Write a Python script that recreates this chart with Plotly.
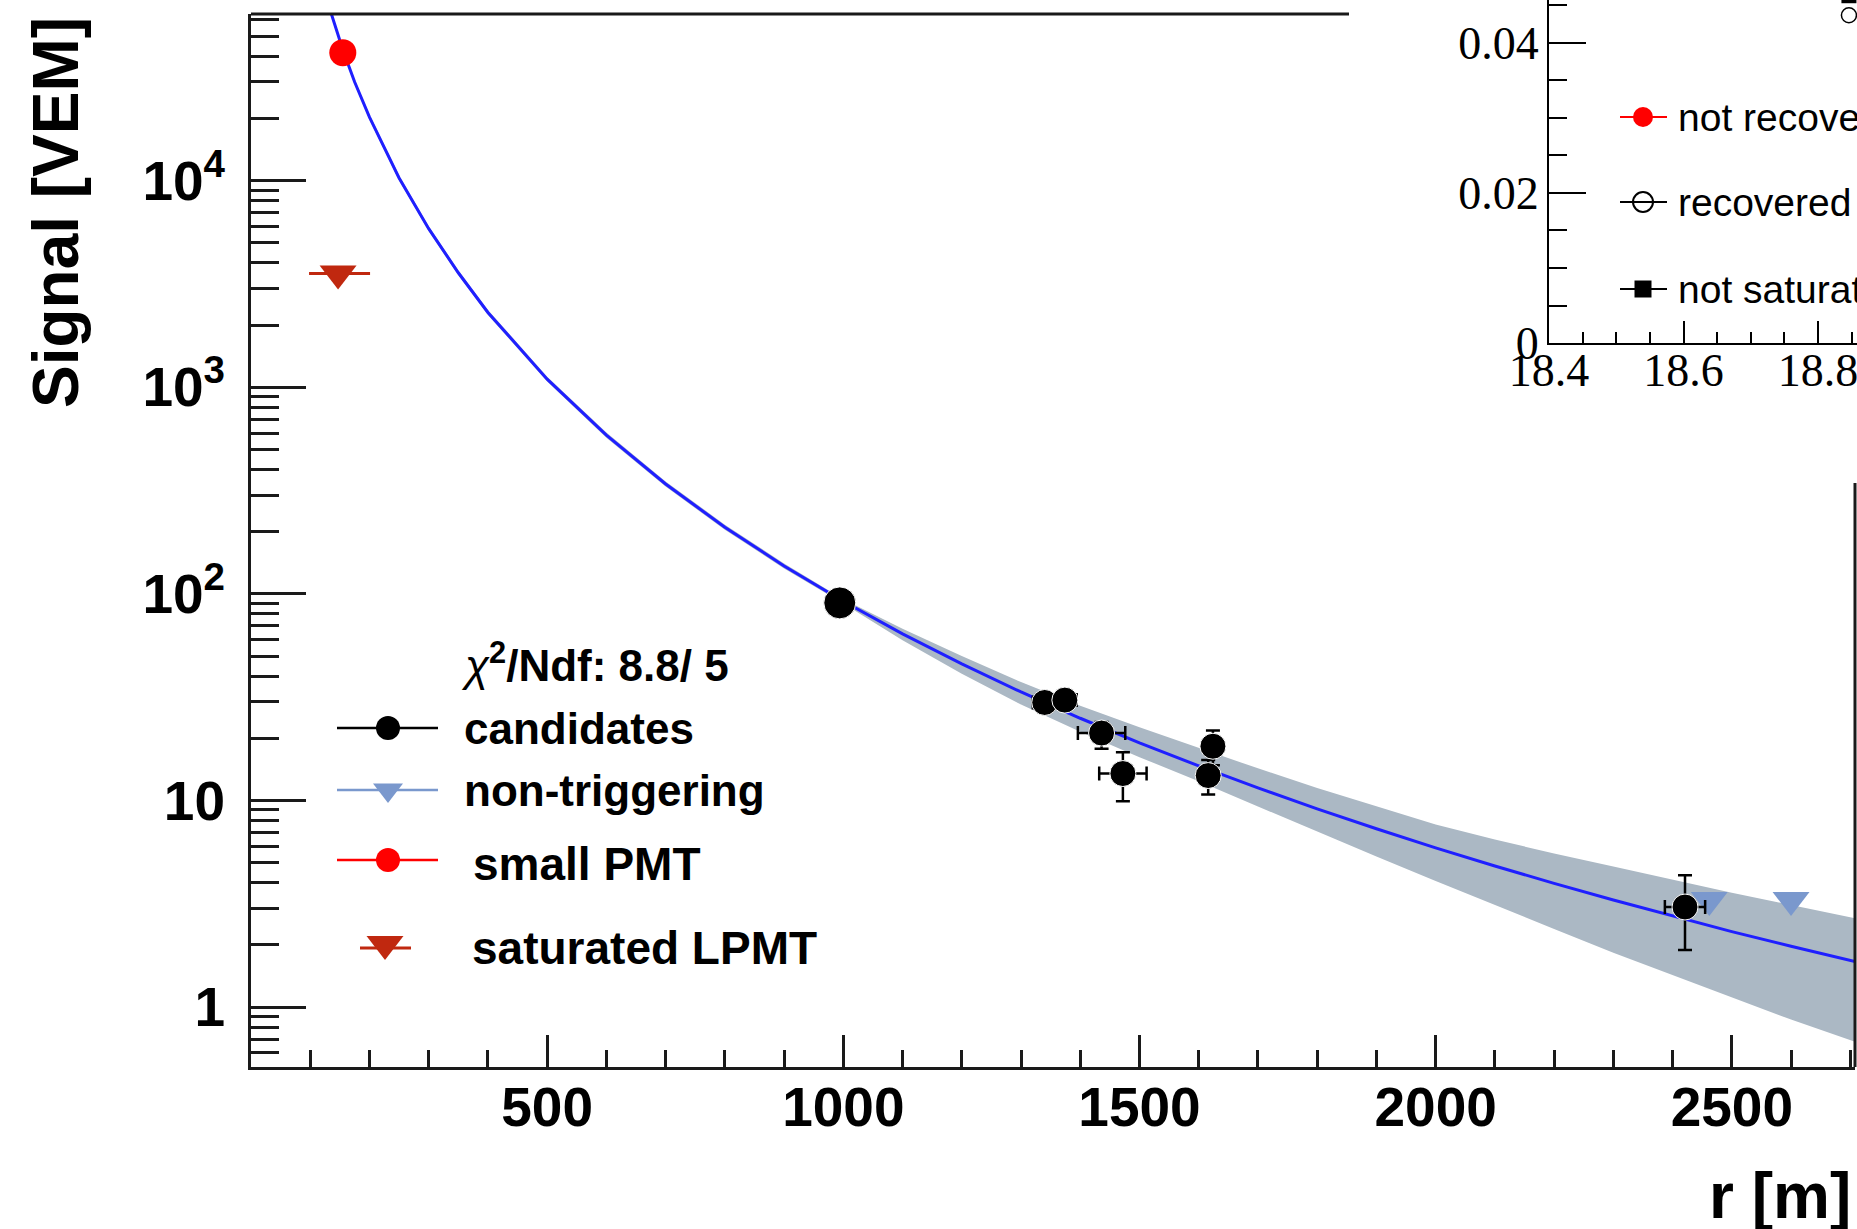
import math
import plotly.graph_objects as go

# ---------------- data ----------------
# fit curve (LDF) sampled along r [m] -> signal [VEM]
r_fit = [130, 140, 155, 175, 200, 250, 300, 350, 400, 500, 600, 700, 800, 900, 1000,
         1100, 1200, 1300, 1400, 1500, 1600, 1700, 1800, 1900, 2000, 2100, 2200, 2300,
         2400, 2500, 2600, 2708]
s_fit = [72000, 58000, 43000, 30000, 20300, 10300, 5850, 3580, 2300, 1094, 586, 340, 210,
         136.5, 92, 64.0, 45.8, 33.5, 25.0, 19.0, 14.7, 11.5, 9.1, 7.30, 5.9, 4.82, 3.97,
         3.30, 2.76, 2.32, 1.97, 1.66]
s_band_hi = [74000, 59600, 44200, 30800, 20900, 10600, 6010, 3680, 2365, 1125, 603, 350,
             216, 140.3, 94.1, 67.8, 50.0, 37.4, 28.7, 22.6, 17.9, 14.3, 11.5, 9.34, 7.65,
             6.47, 5.54, 4.79, 4.14, 3.58, 3.12, 2.69]
s_band_lo = [70000, 56400, 41800, 29200, 19700, 10000, 5690, 3480, 2235, 1065, 570, 331,
             204, 132.8, 89.9, 59.7, 41.0, 29.1, 21.5, 16.2, 12.4, 9.35, 7.07, 5.35, 4.08,
             3.11, 2.39, 1.83, 1.43, 1.11, 0.87, 0.68]

# candidate stations
cand_r = [994, 1340, 1374, 1436, 1472, 1624, 1616, 2421]
cand_s = [90.4, 29.8, 30.6, 21.2, 13.5, 18.3, 13.2, 3.05]
cand_s_up = [0, 1.2, 1.2, 2.8, 3.6, 3.5, 2.5, 1.3]
cand_s_dn = [0, 1.2, 1.2, 3.4, 3.6, 3.5, 2.5, 1.16]
cand_r_err = [0, 20, 20, 40, 40, 15, 15, 34]
cand_size = [32, 26, 26, 26, 26, 26, 26, 26]

# non-triggering stations
nontrig_r = [2462, 2600]
nontrig_s = [3.3, 3.3]

# small PMT
spmt_r = [155]
spmt_s = [41600]
spmt_r_err = [22]

# saturated LPMT
sat_r = [147]
sat_s = [3550]
sat_r_err_plus = [54]
sat_r_err_minus = [49]

# main axes ticks
x_major = [500, 1000, 1500, 2000, 2500]
x_major_text = ["500", "1000", "1500", "2000", "2500"]
x_minor = [100 * k for k in range(1, 28)]
y_major = [1, 10, 100, 1000, 10000]
y_major_text = ["1", "10", "10<sup>2</sup>", "10<sup>3</sup>", "10<sup>4</sup>"]
y_minor = [m * 10 ** k for k in range(-1, 5) for m in range(2, 10)]

# inset (partial plot) data
inset_sq_x = [18.846]
inset_sq_y = [0.0463]
inset_circ_x = [18.846]
inset_circ_y = [0.0437]
inset_x_major = [18.4, 18.6, 18.8]
inset_x_text = ["18.4", "18.6", "18.8"]
inset_x_minor = [round(18.4 + 0.05 * k, 2) for k in range(0, 10)]
inset_y_major = [0, 0.02, 0.04]
inset_y_text = ["0", "0.02", "0.04"]
inset_y_minor = [round(0.005 * k, 3) for k in range(0, 10)]

# legend labels
leg_labels = ["candidates", "non-triggering", "small PMT", "saturated LPMT"]
inset_labels = ["not recovered", "recovered", "not saturated"]

# ---------------- figure geometry (pixels) ----------------
W, H = 1857, 1229
PL, PR, PT, PB = 251, 1855, 14, 1067   # main plot frame
IL, IB = 1549, 343                      # inset axes origin

SANS = "Liberation Sans"
SERIF = "Liberation Serif"
FRAME = "#1a1a1a"
BAND = "#abb8c4"
FITBLUE = "#1f1fff"
NTBLUE = "#7a98cd"
SATRED = "#c0280f"

fig = go.Figure()

# error band
fig.add_trace(go.Scatter(x=r_fit, y=s_band_lo, mode="lines", line=dict(width=0),
                         showlegend=False, hoverinfo="skip"))
fig.add_trace(go.Scatter(x=r_fit, y=s_band_hi, mode="lines", line=dict(width=0),
                         fill="tonexty", fillcolor=BAND, showlegend=False, hoverinfo="skip"))
# fit line
fig.add_trace(go.Scatter(x=r_fit, y=s_fit, mode="lines", line=dict(color=FITBLUE, width=3),
                         showlegend=False))
# non-triggering
fig.add_trace(go.Scatter(x=nontrig_r, y=nontrig_s, mode="markers",
                         marker=dict(symbol="triangle-down", size=32, color=NTBLUE, opacity=1),
                         showlegend=False))
# candidates
fig.add_trace(go.Scatter(
    x=cand_r, y=cand_s, mode="markers",
    marker=dict(symbol="circle", size=cand_size, color="black", opacity=1),
    error_y=dict(type="data", array=cand_s_up, arrayminus=cand_s_dn, symmetric=False,
                 color="black", thickness=2.5, width=7),
    error_x=dict(type="data", array=cand_r_err, color="black", thickness=2.5, width=7),
    showlegend=False))
# small PMT
fig.add_trace(go.Scatter(
    x=spmt_r, y=spmt_s, mode="markers",
    marker=dict(symbol="circle", size=27, color="#ff0000", opacity=1),
    error_x=dict(type="data", array=spmt_r_err, color="#ff0000", thickness=2, width=0),
    showlegend=False))
# saturated LPMT
fig.add_trace(go.Scatter(
    x=sat_r, y=sat_s, mode="markers",
    marker=dict(symbol="triangle-down", size=32, color=SATRED, opacity=1),
    error_x=dict(type="data", array=sat_r_err_plus, arrayminus=sat_r_err_minus,
                 symmetric=False, color=SATRED, thickness=3, width=0),
    showlegend=False))

# inset data points
fig.add_trace(go.Scatter(x=inset_sq_x, y=inset_sq_y, mode="markers", xaxis="x2", yaxis="y2",
                         marker=dict(symbol="square", size=15, color="black", opacity=1),
                         cliponaxis=True, showlegend=False))
fig.add_trace(go.Scatter(x=inset_circ_x, y=inset_circ_y, mode="markers", xaxis="x2", yaxis="y2",
                         marker=dict(symbol="circle-open", size=15, color="black", opacity=1,
                                     line=dict(width=1.5)),
                         cliponaxis=True, showlegend=False))

# ---------------- legend glyphs (pixel overlay) ----------------
def seg(x0, x1, y, color, width):
    fig.add_trace(go.Scatter(x=[x0, x1], y=[y, y], mode="lines", xaxis="x3", yaxis="y3",
                             line=dict(color=color, width=width), showlegend=False,
                             hoverinfo="skip"))

def mark(x, y, symbol, size, color, lw=0):
    fig.add_trace(go.Scatter(x=[x], y=[y], mode="markers", xaxis="x3", yaxis="y3",
                             marker=dict(symbol=symbol, size=size, color=color, opacity=1,
                                         line=dict(width=lw, color=color)),
                             showlegend=False, hoverinfo="skip"))

leg_y = [728, 790, 860, 948]
seg(337, 438, leg_y[0], "black", 2.5)
mark(388, leg_y[0], "circle", 24, "black")
seg(337, 438, leg_y[1], NTBLUE, 2.5)
mark(388, leg_y[1], "triangle-down", 26, NTBLUE)
seg(337, 438, leg_y[2], "#ff0000", 2.5)
mark(388, leg_y[2], "circle", 24, "#ff0000")
seg(360, 411, leg_y[3], SATRED, 3)
mark(385, leg_y[3] - 4, "triangle-down", 32, SATRED)

inset_leg_y = [117, 202, 289]
seg(1620, 1667, inset_leg_y[0], "#ff0000", 2)
mark(1643, inset_leg_y[0], "circle", 20, "#ff0000")
seg(1620, 1667, inset_leg_y[1], "black", 2)
fig.add_trace(go.Scatter(x=[1643], y=[inset_leg_y[1]], mode="markers", xaxis="x3", yaxis="y3",
                         marker=dict(symbol="circle-open", size=20, color="black", opacity=1,
                                     line=dict(width=2)),
                         showlegend=False, hoverinfo="skip"))
seg(1620, 1667, inset_leg_y[2], "black", 2)
mark(1643, inset_leg_y[2], "square", 17, "black")

# ---------------- annotations ----------------
ann = []
def txt(x, y, text, size, bold=True, xanchor="left", family=SANS, angle=0):
    ann.append(dict(x=x, y=y, xref="x3", yref="y3", text=text, showarrow=False,
                    xanchor=xanchor, yanchor="middle", textangle=angle,
                    font=dict(family=family, size=size, color="black",
                              weight="bold" if bold else "normal")))

txt(56, 213, "Signal [VEM]", 64, xanchor="center", angle=-90)
txt(1853, 1196, "r [m]", 64, xanchor="right")
txt(459, 662, '<span style="font-weight:normal;font-style:italic">χ</span><sup>2</sup>/Ndf: 8.8/ 5', 44)
txt(462, leg_y[0], leg_labels[0], 44)
txt(462, leg_y[1], leg_labels[1], 44)
txt(471, leg_y[2] + 4, leg_labels[2], 46)
txt(470, leg_y[3], leg_labels[3], 46)
for lbl, yy in zip(inset_labels, inset_leg_y):
    txt(1676, yy, lbl, 39, bold=False)

# ---------------- frame pieces ----------------
shapes = [
    dict(type="line", xref="x3", yref="y3", x0=PL, y0=PT, x1=1349, y1=PT,
         line=dict(color=FRAME, width=3)),
    dict(type="line", xref="x3", yref="y3", x0=PR, y0=483, x1=PR, y1=PB,
         line=dict(color=FRAME, width=3)),
]

# ---------------- layout ----------------
tickfont_main = dict(family=SANS, size=55, color="black", weight="bold")
tickfont_inset = dict(family=SERIF, size=46, color="black")

fig.update_layout(
    template="none",
    width=W, height=H, autosize=False,
    margin=dict(l=0, r=0, t=0, b=0, pad=0),
    paper_bgcolor="white", plot_bgcolor="rgba(0,0,0,0)",
    showlegend=False,
    annotations=ann, shapes=shapes,
    xaxis=dict(domain=[PL / W, PR / W], range=[0, 2708], anchor="y", automargin=False,
               showline=True, linewidth=3, linecolor=FRAME,
               ticks="inside", ticklen=32, tickwidth=2.5, tickcolor=FRAME,
               tickmode="array", tickvals=x_major, ticktext=x_major_text,
               tickfont=tickfont_main, ticklabelstandoff=-10, ticklabeloverflow="allow",
               minor=dict(ticks="inside", ticklen=17, tickwidth=2.5, tickcolor=FRAME,
                          tickmode="array", tickvals=x_minor, showgrid=False),
               showgrid=False, zeroline=False),
    yaxis=dict(type="log", domain=[1 - PB / H, 1 - PT / H],
               range=[math.log10(0.513), math.log10(64000)], anchor="x", automargin=False,
               showline=True, linewidth=3, linecolor=FRAME,
               ticks="inside", ticklen=55, tickwidth=2.5, tickcolor=FRAME,
               tickmode="array", tickvals=y_major, ticktext=y_major_text,
               tickfont=tickfont_main, ticklabelstandoff=12, ticklabeloverflow="allow",
               minor=dict(ticks="inside", ticklen=28, tickwidth=2.5, tickcolor=FRAME,
                          tickmode="array", tickvals=y_minor, showgrid=False),
               showgrid=False, zeroline=False),
    xaxis2=dict(domain=[IL / W, 1.0], range=[18.4, 18.858], anchor="y2", automargin=False,
                showline=True, linewidth=2, linecolor="black",
                ticks="inside", ticklen=22, tickwidth=2, tickcolor="black",
                tickmode="array", tickvals=inset_x_major, ticktext=inset_x_text,
                tickfont=tickfont_inset, ticklabelstandoff=-14, ticklabeloverflow="allow",
                minor=dict(ticks="inside", ticklen=11, tickwidth=2, tickcolor="black",
                           tickmode="array", tickvals=inset_x_minor, showgrid=False),
                showgrid=False, zeroline=False),
    yaxis2=dict(domain=[1 - IB / H, 1.0], range=[0, 0.04573], anchor="x2", automargin=False,
                showline=True, linewidth=2, linecolor="black",
                ticks="inside", ticklen=37, tickwidth=2, tickcolor="black",
                tickmode="array", tickvals=inset_y_major, ticktext=inset_y_text,
                tickfont=tickfont_inset, ticklabelstandoff=-1, ticklabeloverflow="allow",
                minor=dict(ticks="inside", ticklen=18, tickwidth=2, tickcolor="black",
                           tickmode="array", tickvals=inset_y_minor, showgrid=False),
                showgrid=False, zeroline=False),
    xaxis3=dict(domain=[0, 1], range=[0, W], anchor="y3", visible=False, fixedrange=True,
                automargin=False),
    yaxis3=dict(domain=[0, 1], range=[H, 0], anchor="x3", visible=False, fixedrange=True,
                automargin=False),
)

fig.write_html("out.html", config={"displayModeBar": False},
               post_script="document.body.style.margin='0';document.body.style.overflow='hidden';")
